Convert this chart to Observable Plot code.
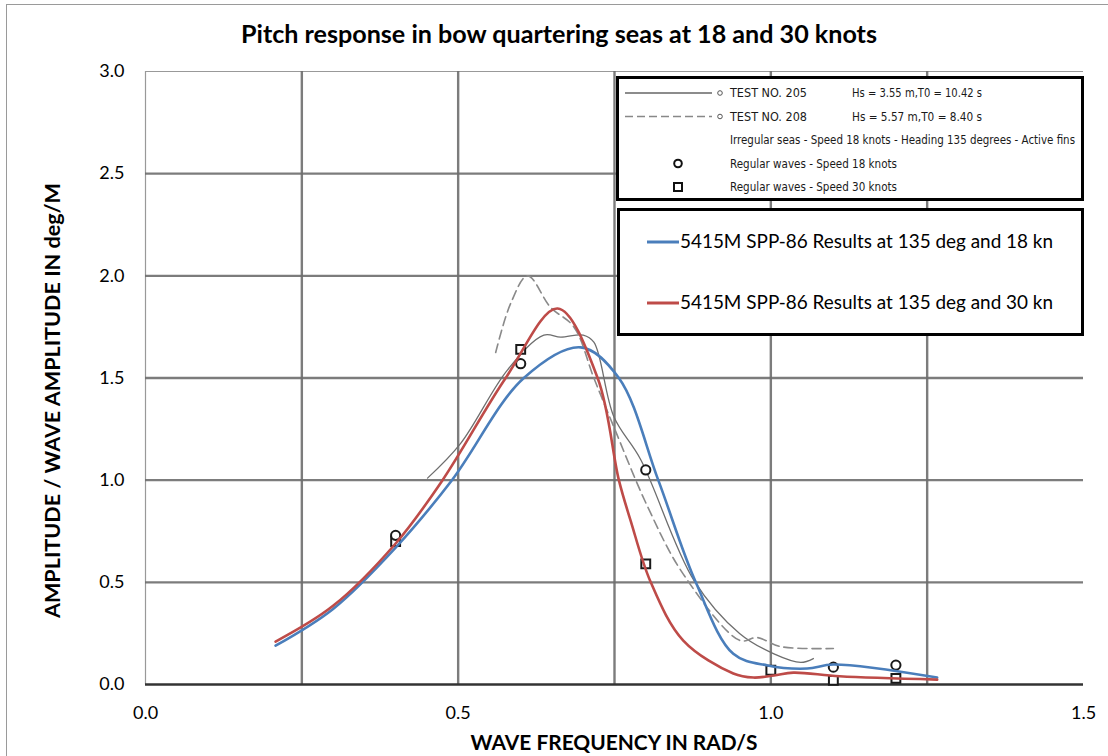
<!DOCTYPE html>
<html>
<head>
<meta charset="utf-8">
<script src="https://cdn.jsdelivr.net/npm/d3@7"></script>
<script src="https://cdn.jsdelivr.net/npm/@observablehq/plot@0.6"></script>
<style>
  html, body { margin: 0; padding: 0; background: #fff; overflow: hidden; }
  #wrap { position: relative; width: 1108px; height: 756px; overflow: hidden; font-family: Lato, "Open Sans", sans-serif; }
  #frame { position: absolute; left: 6px; top: 4px; width: 1200px; height: 900px; border: 1px solid #9a9a9a; box-sizing: border-box; }
  #title { position: relative; height: 58px; }
  #overlay { position: absolute; left: 0; top: 0; pointer-events: none; }
  .legend { position: absolute; box-sizing: border-box; background: #fff; }
  #leg1 { left: 616px; top: 76px; width: 468px; height: 125px; border: 3px solid #000; }
  #leg2 { left: 617px; top: 208px; width: 467px; height: 128px; border: 3px solid #000; }
  .legend svg { position: absolute; left: -3px; top: -3px; overflow: visible; }
</style>
</head>
<body>
<div id="wrap">
  <div id="frame"></div>
  <div id="title"></div>
  <div id="chart"></div>
  <div class="legend" id="leg1"></div>
  <div class="legend" id="leg2"></div>
</div>
<script>
// ---- Data ----
// SPP-86 computed results, 135 deg, 18 knots
const blueX = [0.208, 0.30, 0.40, 0.49, 0.605, 0.696, 0.757, 0.82, 0.88, 0.94, 0.995, 1.058, 1.10, 1.266];
const blueY = [0.19, 0.37, 0.67, 1.00, 1.50, 1.65, 1.50, 1.00, 0.50, 0.15, 0.093, 0.078, 0.098, 0.034];
// SPP-86 computed results, 135 deg, 30 knots
const redX = [0.208, 0.30, 0.40, 0.475, 0.576, 0.659, 0.723, 0.757, 0.776, 0.808, 0.86, 0.94, 0.972, 1.005, 1.036, 1.11, 1.266];
const redY = [0.21, 0.385, 0.69, 1.00, 1.50, 1.84, 1.50, 1.00, 0.80, 0.50, 0.215, 0.054, 0.034, 0.044, 0.058, 0.04, 0.024];
// Test No. 205 (irregular seas, solid gray)
const t205X = [0.451, 0.504, 0.579, 0.637, 0.664, 0.70, 0.717, 0.749, 0.792, 0.877, 0.95, 1.005, 1.048, 1.068];
const t205Y = [1.01, 1.18, 1.54, 1.71, 1.70, 1.71, 1.675, 1.31, 1.10, 0.51, 0.25, 0.15, 0.108, 0.127];
// Test No. 208 (irregular seas, dashed gray)
const t208X = [0.56, 0.584, 0.611, 0.648, 0.685, 0.717, 0.749, 0.803, 0.86, 0.951, 0.978, 1.015, 1.10];
const t208Y = [1.625, 1.865, 2.0, 1.845, 1.75, 1.50, 1.26, 0.87, 0.54, 0.215, 0.23, 0.186, 0.176];
// Regular waves, 18 knots (circles)
const circX = [0.4, 0.6, 0.8, 1.1, 1.2];
const circY = [0.73, 1.57, 1.05, 0.085, 0.095];
// Regular waves, 30 knots (squares)
const sqX = [0.4, 0.6, 0.8, 1.0, 1.1, 1.2];
const sqY = [0.70, 1.64, 0.59, 0.07, 0.02, 0.03];
// Axis ticks and grid
const xTicks = [0, 0.5, 1.0, 1.5];
const yTicks = [0, 0.5, 1.0, 1.5, 2.0, 2.5, 3.0];
const xGrid = [0.25, 0.5, 0.75, 1.0, 1.25];
const yGrid = [0.5, 1.0, 1.5, 2.0, 2.5];
// Texts
const titleText = "Pitch response in bow quartering seas at 18 and 30 knots";
const xLabel = "WAVE FREQUENCY IN RAD/S";
const yLabel = "AMPLITUDE / WAVE AMPLITUDE IN deg/M";

const series = (xs, ys) => xs.map((x, i) => ({x, y: ys[i]}));
const blue = series(blueX, blueY);
const red = series(redX, redY);
const t205 = series(t205X, t205Y);
const t208 = series(t208X, t208Y);
const circ = series(circX, circY);
const sq = series(sqX, sqY);

const BLUE = "#4a7ebb", RED = "#be4b48";
const FONT = "Lato, 'Open Sans', sans-serif";

const chart = Plot.plot({
  width: 1108,
  height: 698,
  marginLeft: 145,
  marginRight: 25,
  marginTop: 13,
  marginBottom: 72,
  style: { fontFamily: FONT, fontSize: "18px", color: "#000", background: "transparent", overflow: "visible" },
  x: { domain: [0, 1.5] },
  y: { domain: [0, 3] },
  marks: [
    Plot.ruleY([3], { stroke: "#999", strokeWidth: 1.2 }),
    Plot.ruleX([0], { stroke: "#999", strokeWidth: 1.2 }),
    Plot.ruleX(xGrid, { stroke: "#6e6e6e", strokeWidth: 2.4, strokeOpacity: 0.9 }),
    Plot.ruleY(yGrid, { stroke: "#6e6e6e", strokeWidth: 2.4, strokeOpacity: 0.9 }),
    Plot.ruleY([0], { stroke: "#333", strokeWidth: 2.6 }),
    Plot.line(t205, { x: "x", y: "y", curve: "catmull-rom", stroke: "#6e6e6e", strokeWidth: 1.3 }),
    Plot.line(t208, { x: "x", y: "y", curve: "catmull-rom", stroke: "#8a8a8a", strokeWidth: 1.6, strokeDasharray: "9,5" }),
    Plot.dot(sq, { x: "x", y: "y", symbol: "square", r: 5, stroke: "#1a1a1a", strokeWidth: 2, fill: "#fff" }),
    Plot.dot(circ, { x: "x", y: "y", symbol: "circle", r: 4.6, stroke: "#1a1a1a", strokeWidth: 2, fill: "#fff" }),
    Plot.line(blue, { x: "x", y: "y", curve: "catmull-rom", stroke: BLUE, strokeWidth: 2.6 }),
    Plot.line(red, { x: "x", y: "y", curve: "catmull-rom", stroke: RED, strokeWidth: 2.6 }),
    Plot.axisX({ ticks: xTicks, tickSize: 0, tickPadding: 22, tickFormat: d3.format(".1f"), label: null }),
    Plot.axisY({ ticks: yTicks, tickSize: 0, tickPadding: 21, tickFormat: d3.format(".1f"), label: null })
  ]
});
document.getElementById("chart").appendChild(chart);

// ---- Overlay texts (title and axis titles) ----
const NS = "http://www.w3.org/2000/svg";
function el(parent, name, attrs, text) {
  const e = document.createElementNS(NS, name);
  for (const k in attrs) e.setAttribute(k, attrs[k]);
  if (text != null) e.textContent = text;
  parent.appendChild(e);
  return e;
}
const ov = el(document.getElementById("wrap"), "svg", { id: "overlay", width: 1108, height: 756 });
el(ov, "text", { x: 559, y: 43, "text-anchor": "middle", "font-family": FONT, "font-weight": "bold", "font-size": 24, textLength: 636, lengthAdjust: "spacingAndGlyphs" }, titleText);
el(ov, "text", { x: 614, y: 750, "text-anchor": "middle", "font-family": FONT, "font-weight": "bold", "font-size": 21, textLength: 287, lengthAdjust: "spacingAndGlyphs" }, xLabel);
el(ov, "text", { x: 0, y: 0, transform: "translate(60,400.5) rotate(-90)", "text-anchor": "middle", "font-family": FONT, "font-weight": "bold", "font-size": 21, textLength: 435, lengthAdjust: "spacingAndGlyphs" }, yLabel);

// ---- Legends ----
const scanFont = "'Liberation Sans Narrow', 'DejaVu Sans Condensed', 'Liberation Sans', sans-serif";
const leg1Rows = [
  { kind: "solid", name: "TEST NO. 205", extra: "Hs = 3.55 m,T0 = 10.42 s" },
  { kind: "dash", name: "TEST NO. 208", extra: "Hs = 5.57 m,T0 =  8.40 s" },
  { kind: "none", name: "Irregular seas - Speed 18 knots - Heading 135 degrees - Active fins" },
  { kind: "circle", name: "Regular waves - Speed 18 knots" },
  { kind: "square", name: "Regular waves - Speed 30 knots" }
];
const leg1Widths = [77, 77, 345, 167, 167];
const s1 = el(document.getElementById("leg1"), "svg", { width: 468, height: 125 });
leg1Rows.forEach((r, i) => {
  const y = 17 + i * 23.5;
  if (r.kind === "solid" || r.kind === "dash") {
    el(s1, "line", { x1: 9, x2: 96, y1: y, y2: y, stroke: r.kind === "solid" ? "#666" : "#888", "stroke-width": 1.3, "stroke-dasharray": r.kind === "dash" ? "8,4" : "none" });
    el(s1, "circle", { cx: 104, cy: y, r: 2.3, fill: "#fff", stroke: "#555", "stroke-width": 1 });
  }
  if (r.kind === "circle") el(s1, "circle", { cx: 62, cy: y, r: 3.8, fill: "#fff", stroke: "#111", "stroke-width": 2 });
  if (r.kind === "square") el(s1, "rect", { x: 58, y: y - 4, width: 8, height: 8, fill: "#fff", stroke: "#111", "stroke-width": 2 });
  el(s1, "text", { x: 114, y: y, dy: "0.35em", "font-family": scanFont, "font-size": 12.5, fill: "#1a1a1a", textLength: leg1Widths[i], lengthAdjust: "spacingAndGlyphs" }, r.name);
  if (r.extra) el(s1, "text", { x: 236, y: y, dy: "0.35em", "font-family": scanFont, "font-size": 12.5, fill: "#1a1a1a", textLength: 130, lengthAdjust: "spacingAndGlyphs", "xml:space": "preserve" }, r.extra);
});

const leg2Rows = [
  { color: BLUE, name: "5415M SPP-86 Results at 135 deg and 18 kn" },
  { color: RED, name: "5415M SPP-86 Results at 135 deg and 30 kn" }
];
const s2 = el(document.getElementById("leg2"), "svg", { width: 467, height: 128 });
leg2Rows.forEach((r, i) => {
  const y = 34 + i * 61;
  el(s2, "line", { x1: 30, x2: 62, y1: y, y2: y, stroke: r.color, "stroke-width": 3 });
  el(s2, "text", { x: 63, y: y, dy: "0.35em", "font-family": FONT, "font-size": 18.5, fill: "#000", textLength: 373, lengthAdjust: "spacingAndGlyphs" }, r.name);
});
</script>
</body>
</html>
